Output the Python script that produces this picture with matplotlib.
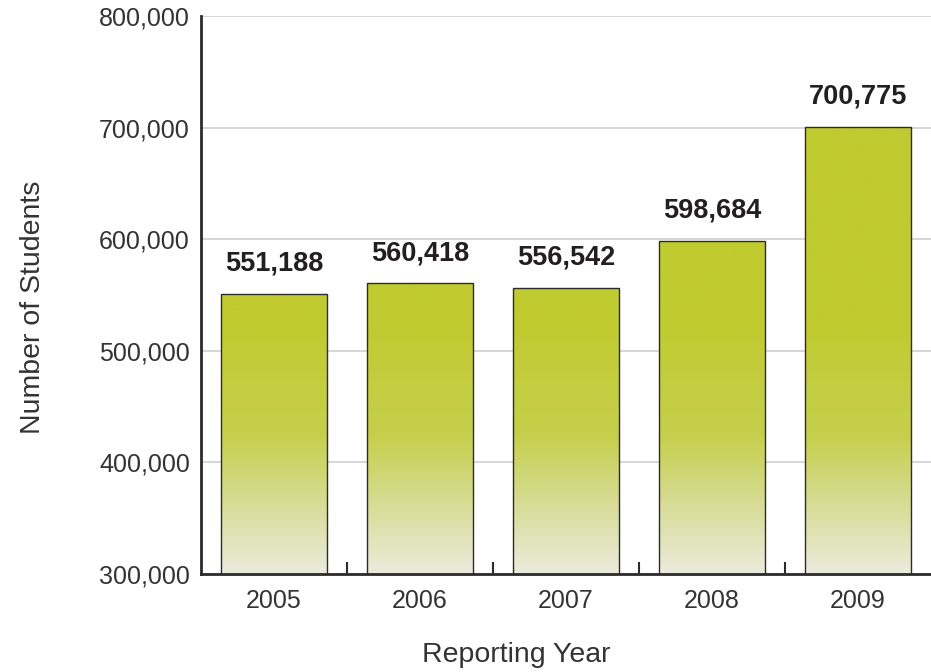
import numpy as np
import matplotlib.pyplot as plt
from matplotlib.colors import LinearSegmentedColormap

# data
years = ['2005', '2006', '2007', '2008', '2009']
students = [551188, 560418, 556542, 598684, 700775]
y_ticks = [300000, 400000, 500000, 600000, 700000, 800000]

plt.rcParams['font.family'] = ['Liberation Sans', 'DejaVu Sans']

fig = plt.figure(figsize=(9.31, 6.72), dpi=100)
ax = fig.add_axes([201 / 931, 98 / 672, 730 / 931, 558 / 672])

x = np.arange(len(years))
bars = ax.bar(x, students, width=0.726, bottom=0, color='none',
              edgecolor='#2b2b2b', linewidth=1.0, zorder=3)

# gradient fill, fading from green (top) to pale at the base
cmap = LinearSegmentedColormap.from_list(
    'grn', [(0.0, '#ebebdc'), (0.25, '#d9dd9c'), (0.55, '#c6cf4c'), (1.0, '#c0cb30')])
grad = np.linspace(0, 1, 256).reshape(-1, 1)
grad = np.clip(grad / 0.45, 0, 1)
for b in bars:
    im = ax.imshow(grad, cmap=cmap, aspect='auto', origin='lower',
                   extent=[-0.5, 4.5, 300000, 800000], zorder=2, vmin=0, vmax=1)
    im.set_clip_path(b)
ax.set_xlim(-0.5, 4.5)
ax.set_ylim(300000, 800000)

for xi, v in zip(x, students):
    ax.text(xi, v + 15000, f'{v:,}', ha='center', va='bottom',
            fontsize=19.5, fontweight='bold', color='#231f20', zorder=4)

ax.set_yticks(y_ticks)
ax.set_yticklabels([f'{t:,}' for t in y_ticks])
ax.yaxis.grid(True, color='#cfcfcf', linewidth=1.2, zorder=0)
ax.set_axisbelow(True)
ax.tick_params(axis='y', length=0, pad=8, labelsize=18, labelcolor='#333333')

ax.set_xticks(x)
ax.set_xticklabels(years)
ax.tick_params(axis='x', which='major', length=0, pad=11, labelsize=18,
               labelcolor='#333333')
ax.set_xticks([0.5, 1.5, 2.5, 3.5], minor=True)
ax.tick_params(axis='x', which='minor', direction='in', length=9, width=1.5,
               color='#2b2b2b')

for s in ['top', 'right']:
    ax.spines[s].set_visible(False)
for s in ['left', 'bottom']:
    ax.spines[s].set_linewidth(2)
    ax.spines[s].set_color('#2b2b2b')

fig.text(33 / 931, 1 - 307 / 672, 'Number of Students', rotation=90,
         ha='center', va='center', fontsize=20.5, color='#333333')
fig.text(516 / 931, 1 - 655 / 672, 'Reporting Year',
         ha='center', va='center', fontsize=20.5, color='#333333')

fig.savefig('out.png', dpi=100)
